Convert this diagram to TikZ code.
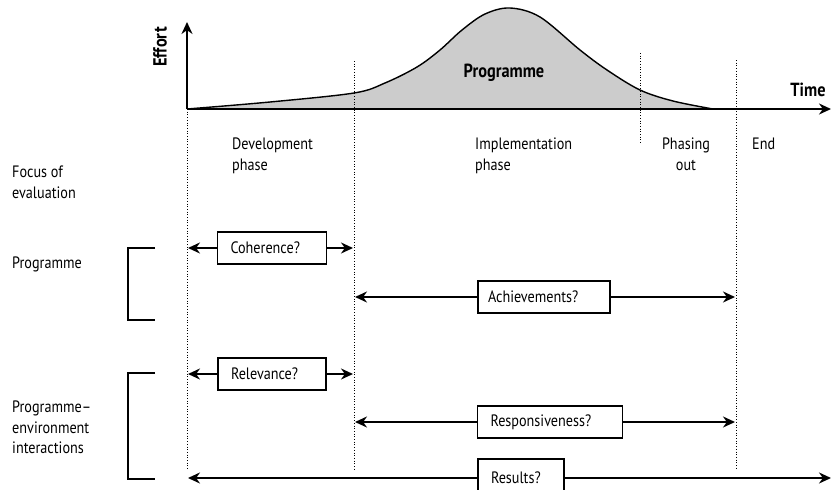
\documentclass[tikz,border=0pt]{standalone}
\usepackage{fontspec}
\setmainfont{PT Sans}[FakeStretch=0.86]
\usetikzlibrary{arrows.meta}
\begin{document}
\begin{tikzpicture}[x=1pt,y=-1pt,
  txt/.style={font=\fontsize{16.5}{20.5}\selectfont, inner sep=0pt, align=left},
  hd/.style={font=\fontsize{19}{22}\selectfont\bfseries, inner sep=0pt},
  box/.style={draw, line width=1.4pt, fill=white, minimum height=32pt, inner ysep=0pt,
              inner xsep=13pt, align=left, font=\fontsize{16.5}{20}\selectfont},
  arr/.style={line width=1.9pt, -{Stealth[length=12pt,width=11pt]}},
  guide/.style={line width=0.7pt, dotted},
  brk/.style={line width=1.6pt}]
\useasboundingbox (0,0) rectangle (831,490);

% effort curve
\def\curvepts{(187,109) (270,102) (354,93) (385,83) (417,67) (440,50) (462,30) (485,14) (510,8) (540,17) (580,50) (607,70) (640,90) (673,101) (713,109)}
\fill[gray!40] plot[smooth, tension=0.55] coordinates {\curvepts} -- cycle;
\draw[line width=1.4pt] plot[smooth, tension=0.55] coordinates {\curvepts};

% phase boundaries
\draw[guide] (187,109) -- (187,470);
\draw[guide] (354,61) -- (354,470);
\draw[guide] (640,53) -- (640,143);
\draw[guide] (736,60) -- (736,470);

% axes
\coordinate (orig) at (187,109);
\coordinate (ytop) at (187,22);
\coordinate (xend) at (831,109);
\draw[line width=2pt, -{Stealth[length=12pt,width=11pt]}] (orig) -- (ytop);
\draw[line width=2pt, -{Stealth[length=12pt,width=11pt]}] (orig) -- (xend);

\node[hd, rotate=90] (effort) at (160,47) {Effort};
\node[hd] (time) at (808,90) {Time};
\node[hd] (prog) at (504,73) {Programme};

% phase labels
\node[txt, anchor=north west] (dev) at (232,138) {Development\\phase};
\node[txt, anchor=north west] (imp) at (475,138) {Implementation\\phase};
\node[txt, align=center, anchor=north] (pha) at (686,138) {Phasing\\out};
\node[txt, anchor=north west] (endp) at (752,138) {End};

% row labels
\node[txt, anchor=north west] (focus) at (12,166) {Focus of\\evaluation};
\node[txt, anchor=north west] (rprog) at (12,257) {Programme};
\node[txt, anchor=north west] (renv) at (12,401) {Programme–\\environment\\interactions};

% brackets
\draw[brk] (155,248) -- (128,248) -- (128,320) -- (155,320);
\draw[brk] (155,373) -- (128,373) -- (128,479) -- (155,479);

% evaluation questions
\node[box, text width=83pt] (coh) at (272,248) {Coherence?};
\coordinate (cohL) at (188,248);
\coordinate (cohR) at (353,248);
\draw[arr] (coh.west) -- (cohL);
\draw[arr] (coh.east) -- (cohR);

\node[box, inner xsep=10pt, text width=112pt] (ach) at (544,297) {Achievements?};
\coordinate (achL) at (355,297);
\coordinate (achR) at (735,297);
\draw[arr] (ach.west) -- (achL);
\draw[arr] (ach.east) -- (achR);

\node[box, text width=82pt] (rel) at (272,374) {Relevance?};
\coordinate (relL) at (188,374);
\coordinate (relR) at (353,374);
\draw[arr] (rel.west) -- (relL);
\draw[arr] (rel.east) -- (relR);

\node[box, text width=119pt] (resp) at (550,422) {Responsiveness?};
\coordinate (respL) at (355,422);
\coordinate (respR) at (735,422);
\draw[arr] (resp.west) -- (respL);
\draw[arr] (resp.east) -- (respR);

\node[box, text width=60pt, minimum height=38pt] (resu) at (521,478) {Results?};
\coordinate (resuL) at (188,478);
\coordinate (resuR) at (831,478);
\draw[arr] (resu.west) -- (resuL);
\draw[arr] (resu.east) -- (resuR);
\end{tikzpicture}
\end{document}
